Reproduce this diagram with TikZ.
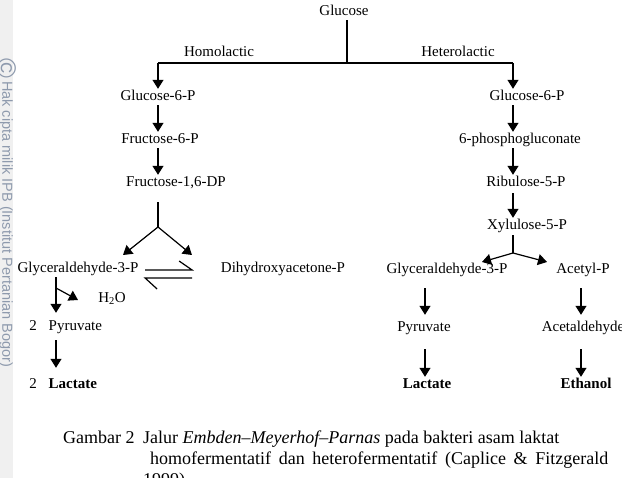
\documentclass[tikz,border=0pt]{standalone}
\usepackage{fontspec}
\setmainfont{Liberation Serif}
\newfontfamily\wmfont{Liberation Sans}
\usepackage{xcolor}
\definecolor{colWatermark}{HTML}{8E9AAD}
\definecolor{colStrip}{HTML}{F0F0F0}
\usepackage{tikz}
\usetikzlibrary{arrows.meta, calc}

\begin{document}
\begin{tikzpicture}[x=1pt, y=-1pt,
    lbl/.style={font=\fontsize{15}{18}\selectfont, inner sep=1.5pt, text height=10pt, text depth=3pt},
    prod/.style={lbl, font=\fontsize{15}{18}\selectfont\bfseries},
    ln/.style={line width=1.2pt},
    arr/.style={ln, -{Triangle[length=9pt, width=11pt]}},
    captxt/.style={font=\fontsize{18}{21}\selectfont, inner sep=0pt, anchor=base west},
    wm/.style={font=\wmfont\fontsize{14.5}{17}\selectfont, text=colWatermark, inner sep=0pt}]
    \useasboundingbox (0,0) rectangle (622,478);

    % === Watermark strip ===
    \fill[colStrip] (0,0) rectangle (13,478);
    \node[wm, rotate=-90, font=\wmfont\fontsize{27}{27}\selectfont] (wmCopy) at (7,68) {©};
    \node[wm, rotate=-90, anchor=west] (wmText) at (6,81) {Hak cipta milik IPB (Institut Pertanian Bogor)};

    % === Glucose and the two branches ===
    \node[lbl] (glc) at (344,12) {Glucose};
    \coordinate (forkTop) at (347,63);
    \coordinate (forkL) at (158,63);
    \coordinate (forkR) at (513,63);
    \draw[ln] (glc.south -| forkTop) -- (forkTop);
    \draw[ln] (forkL) -- (forkR);
    \node[lbl] (homo) at (219,53) {Homolactic};
    \node[lbl] (hetero) at (458,53) {Heterolactic};

    % === Homolactic (left) ===
    \node[lbl] (g6pL) at (158,97) {Glucose-6-P};
    \node[lbl] (f6pL) at (160,140) {Fructose-6-P};
    \node[lbl] (fdpL) at (176,183) {Fructose-1,6-DP};
    \draw[arr] (forkL) -- (forkL |- g6pL.north);
    \draw[arr] (forkL |- g6pL.south) -- (forkL |- f6pL.north);
    \draw[arr] (forkL |- f6pL.south) -- (forkL |- fdpL.north);

    % split of Fructose-1,6-DP
    \coordinate (splitL) at (158,227);
    \coordinate (tipGapL) at (123,255);
    \coordinate (tipDhap) at (192,255);
    \node[lbl] (gapL) at (78,269) {Glyceraldehyde-3-P};
    \node[lbl] (dhapL) at (283,269) {Dihydroxyacetone-P};
    \draw[ln] ([yshift=-11pt]fdpL.south -| splitL) -- (splitL);
    \draw[arr] (splitL) -- (tipGapL);
    \draw[arr] (splitL) -- (tipDhap);

    % equilibrium harpoons
    \draw[ln] ([xshift=5pt, yshift=-1pt]gapL.east) -- ++(47,0) -- ++(-13,-9);
    \draw[ln] ([xshift=52pt, yshift=-9pt]gapL.east) -- ++(-47,0) -- ++(12,11);

    % down to lactate
    \coordinate (stemL) at (56,288);
    \coordinate (tipH2O) at (78,300);
    \node[lbl] (h2o) at (112,299) {H\textsubscript{2}O};
    \node[lbl] (twoPyr) at (33,327) {2};
    \node[lbl, anchor=west] (pyrL) at (47,327) {Pyruvate};
    \node[lbl] (twoLac) at (33,385) {2};
    \node[prod, anchor=west] (lacL) at (47,385) {Lactate};
    \draw[arr] (gapL.south -| stemL) -- ([yshift=6pt]pyrL.north -| stemL);
    \draw[arr] (stemL) -- (tipH2O);
    \draw[arr] ([yshift=-5pt]pyrL.south -| stemL) -- ([yshift=9pt]lacL.north -| stemL);

    % === Heterolactic (right) ===
    \node[lbl] (g6pR) at (527,97) {Glucose-6-P};
    \node[lbl] (pgR) at (520,140) {6-phosphogluconate};
    \node[lbl] (ruR) at (526,183) {Ribulose-5-P};
    \node[lbl] (xuR) at (527,226) {Xylulose-5-P};
    \draw[arr] (forkR) -- (forkR |- g6pR.north);
    \draw[arr] (forkR |- g6pR.south) -- (forkR |- pgR.north);
    \draw[arr] (forkR |- pgR.south) -- (forkR |- ruR.north);
    \draw[arr] ([yshift=-2pt]forkR |- ruR.south) -- (forkR |- xuR.north);

    % split of Xylulose-5-P
    \coordinate (splitR) at (513,253);
    \coordinate (tipGapR) at (482,262);
    \coordinate (tipAcp) at (547,262);
    \node[lbl] (gapR) at (447,270) {Glyceraldehyde-3-P};
    \node[lbl] (acpR) at (583,270) {Acetyl-P};
    \draw[ln] ([yshift=-1pt]xuR.south -| splitR) -- (splitR);
    \draw[arr] (splitR) -- (tipGapR);
    \draw[arr] (splitR) -- (tipAcp);

    % to lactate and ethanol
    \coordinate (stemLac) at (425,300);
    \coordinate (stemEth) at (581,300);
    \node[lbl] (pyrR) at (424,328) {Pyruvate};
    \node[prod] (lacR) at (427,385) {Lactate};
    \node[lbl] (acaR) at (583,328) {Acetaldehyde};
    \node[prod] (ethR) at (586,385) {Ethanol};
    \draw[arr] ([yshift=-10pt]stemLac |- gapR.south) -- ([yshift=5pt]stemLac |- pyrR.north);
    \draw[arr] ([yshift=-13pt]stemLac |- pyrR.south) -- (stemLac |- lacR.north);
    \draw[arr] ([yshift=-10pt]stemEth |- acpR.south) -- ([yshift=5pt]stemEth |- acaR.north);
    \draw[arr] ([yshift=-13pt]stemEth |- acaR.south) -- (stemEth |- ethR.north);

    % === Caption ===
    \node[captxt] (figNo) at (63,444) {Gambar 2};
    \node[captxt] (capA) at (143,444) {Jalur \textit{Embden–Meyerhof–Parnas} pada bakteri asam laktat};
    \node[captxt] (capB) at (150,465) {\makebox[458pt][s]{homofermentatif dan heterofermentatif (Caplice \& Fitzgerald}};
    \node[captxt] (capC) at (143,486) {1999)};
\end{tikzpicture}
\end{document}
